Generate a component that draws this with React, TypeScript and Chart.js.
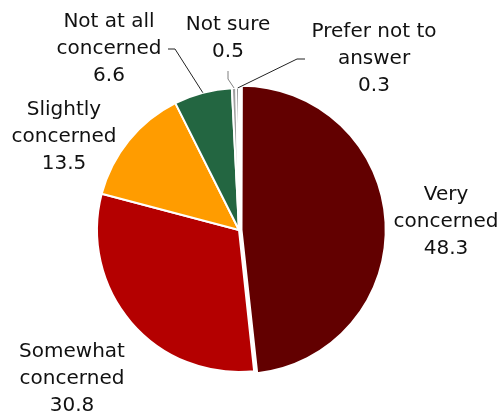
import React, { useEffect, useRef } from "react";
import { Chart, registerables } from "chart.js";

Chart.register(...registerables);

const categories = [
  "Very concerned",
  "Somewhat concerned",
  "Slightly concerned",
  "Not at all concerned",
  "Not sure",
  "Prefer not to answer",
];
const values = [48.3, 30.8, 13.5, 6.6, 0.5, 0.3];
const labelLines = [
  ["Very", "concerned", "48.3"],
  ["Somewhat", "concerned", "30.8"],
  ["Slightly", "concerned", "13.5"],
  ["Not at all", "concerned", "6.6"],
  ["Not sure", "0.5"],
  ["Prefer not to", "answer", "0.3"],
];
const colors = ["#620000", "#B40000", "#FF9C00", "#236641", "#A0A0A0", "#5A5A5A"];
const offsets = [10, 0, 0, 0, 0, 0];

// label layout: center x, first-line center y, optional leader polyline (label side)
const labelLayout: { x: number; y: number; leader?: number[][] }[] = [
  { x: 446, y: 195 },
  { x: 72, y: 352 },
  { x: 64, y: 110 },
  { x: 109, y: 22, leader: [[168, 49], [175, 49]] },
  { x: 228, y: 25, leader: [[228, 71], [228, 79]] },
  { x: 374, y: 32, leader: [[305, 59], [297, 59]] },
];
const LINE_H = 27;

const labelPlugin = {
  id: "pieLabels",
  afterDraw(chart: any) {
    const ctx = chart.ctx;
    const meta = chart.getDatasetMeta(0);
    ctx.save();
    ctx.font = "20px 'DejaVu Sans'";
    ctx.fillStyle = "#111111";
    ctx.textAlign = "center";
    ctx.textBaseline = "middle";
    labelLayout.forEach((lay, i) => {
      labelLines[i].forEach((t, j) => {
        ctx.fillText(t, lay.x, lay.y + j * LINE_H);
      });
      if (lay.leader) {
        const arc = meta.data[i];
        const mid = (arc.startAngle + arc.endAngle) / 2;
        const r = arc.outerRadius;
        const ex = arc.x + Math.cos(mid) * r;
        const ey = arc.y + Math.sin(mid) * r;
        ctx.beginPath();
        ctx.strokeStyle = i === 4 ? "#7f7f7f" : "#222222";
        ctx.lineWidth = 1;
        ctx.moveTo(lay.leader[0][0], lay.leader[0][1]);
        for (let k = 1; k < lay.leader.length; k++) ctx.lineTo(lay.leader[k][0], lay.leader[k][1]);
        ctx.lineTo(ex, ey);
        ctx.stroke();
      }
    });
    ctx.restore();
  },
};

export default function App() {
  const ref = useRef<HTMLCanvasElement>(null);
  useEffect(() => {
    document.body.style.margin = "0";
    const chart = new Chart(ref.current!, {
      type: "pie",
      data: {
        labels: categories,
        datasets: [
          {
            data: values,
            backgroundColor: colors,
            borderColor: "#ffffff",
            borderWidth: 2,
            offset: offsets,
            hoverOffset: 0,
          },
        ],
      },
      options: {
        animation: false,
        responsive: false,
        maintainAspectRatio: false,
        layout: { padding: { top: 82, bottom: 41, left: 91, right: 116 } },
        plugins: { legend: { display: false }, tooltip: { enabled: false } },
        events: [],
      },
      plugins: [labelPlugin],
    });
    return () => chart.destroy();
  }, []);
  return (
    <div style={{ width: 503, height: 419 }}>
      <canvas ref={ref} width={503} height={419} style={{ display: "block" }} />
    </div>
  );
}
